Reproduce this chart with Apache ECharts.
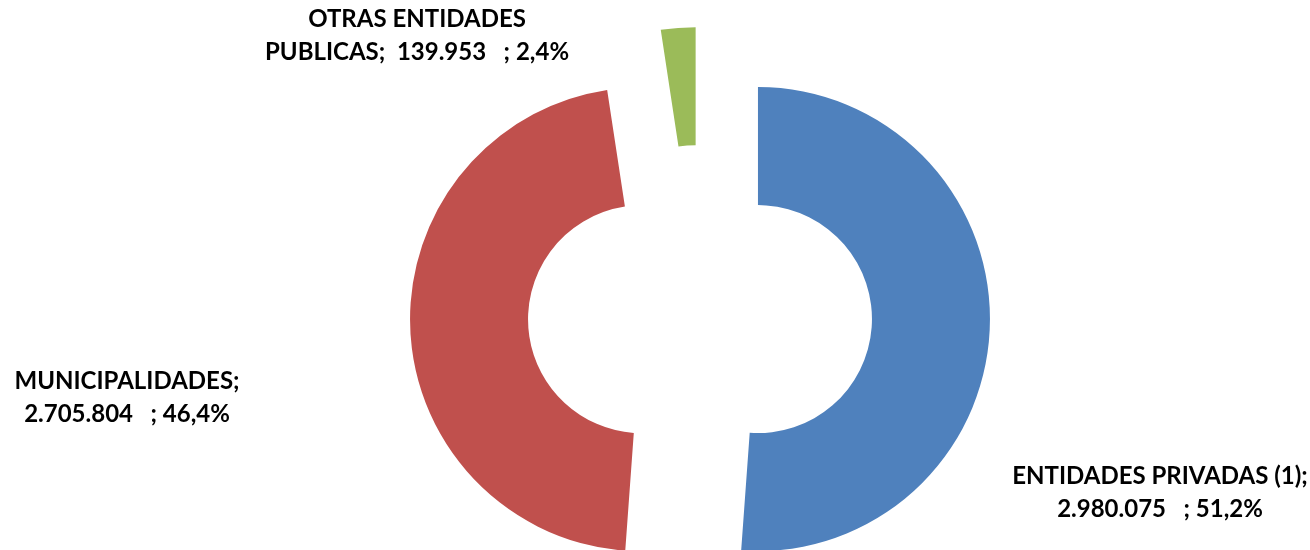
<!DOCTYPE html>
<html lang="es">
<head>
    <meta charset="UTF-8">
    <title>Donut entidades</title>
    <script src="https://cdn.jsdelivr.net/npm/echarts@6/dist/echarts.min.js"></script>
    <style>
        *{
            margin: 0;
            padding: 0;
        }
        body{
            background: #fff;
            overflow: hidden;
        }
        .container{
            width: 1310px;
            height: 550px;
        }
    </style>
</head>
<body>
<div class="container"></div>
<script>
    const categories = ['ENTIDADES PRIVADAS (1)', 'MUNICIPALIDADES', 'OTRAS ENTIDADES PUBLICAS'];
    const values = [2980075, 2705804, 139953];
    const colors = ['#4F81BD', '#C0504D', '#9BBB59'];

    // centre of each label block
    const labelPos = [[1160, 493], [127, 398], [417, 36]];

    let container = document.querySelector('.container');
    let mychart = echarts.init(container);

    // 2980075 -> 2.980.075
    function fmt(n) {
        return String(n).replace(/\B(?=(\d{3})+(?!\d))/g, '.');
    }

    let total = values.reduce((a, b) => a + b, 0);

    let data = categories.map((name, i) => ({
        name,
        value: values[i],
        selected: true,
        itemStyle: {color: colors[i]}
    }));

    // label texts, Excel wraps the third one differently
    let labels = categories.map((name, i) => {
        let pct = (values[i] / total * 100).toFixed(1).replace('.', ',');
        if (i === 2) {
            return 'OTRAS ENTIDADES\nPUBLICAS;  ' + fmt(values[i]) + '   ; ' + pct + '%';
        }
        return name + ';\n' + fmt(values[i]) + '   ; ' + pct + '%';
    });

    let graphic = labels.map((text, i) => ({
        type: 'text',
        x: labelPos[i][0],
        y: labelPos[i][1],
        style: {
            text,
            fill: '#000',
            fontFamily: 'Lato',
            fontWeight: 'bold',
            fontSize: 24,
            lineHeight: 33,
            align: 'center',
            verticalAlign: 'middle'
        }
    }));

    let options = {
        backgroundColor: '#fff',
        animation: false,
        graphic,
        series: [{
            type: 'pie',
            center: [700, 317],
            radius: [114, 232],
            startAngle: 90,
            clockwise: true,
            selectedMode: 'multiple',
            selectedOffset: 58,
            emphasis: {disabled: true},
            label: {show: false},
            labelLine: {show: false},
            data
        }]
    };

    mychart.setOption(options);
</script>
</body>
</html>
